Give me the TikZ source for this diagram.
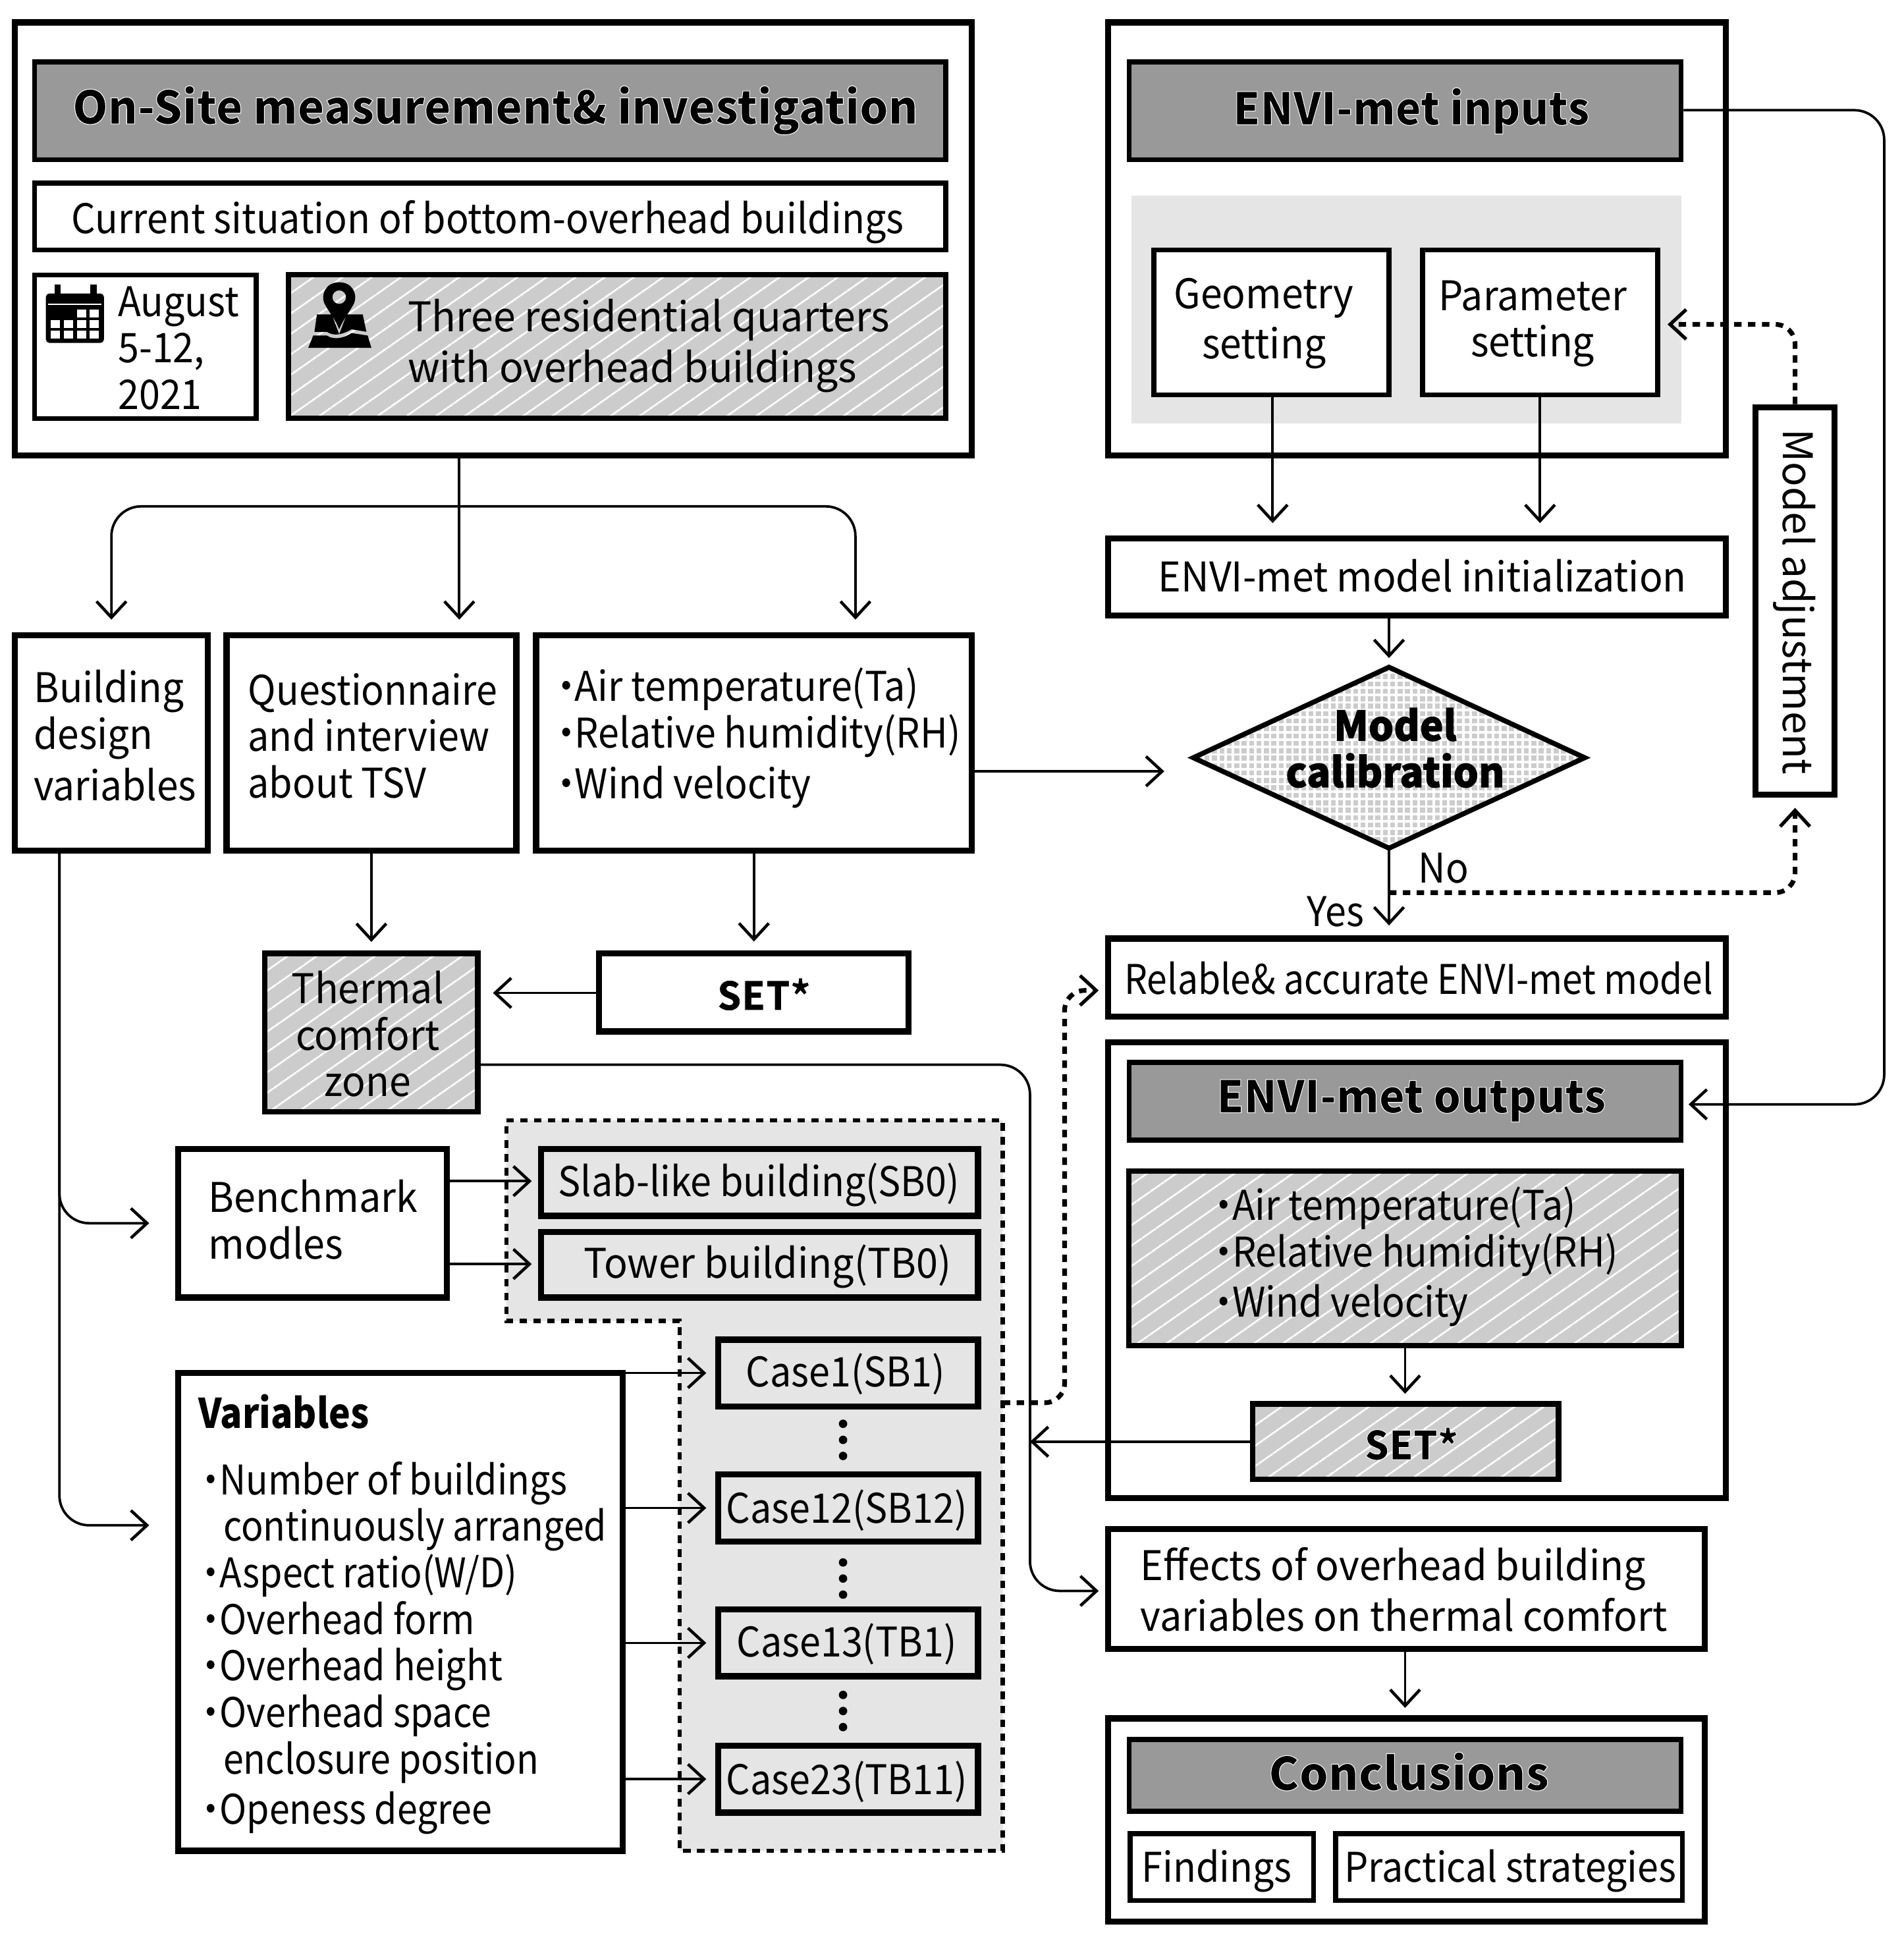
\documentclass[tikz,border=0pt]{standalone}
\usepackage{fontspec}
\setmainfont{Noto Sans CJK SC}[FakeStretch=0.925]
\newfontfamily\ttlfont{Noto Sans CJK SC}[FakeStretch=0.97]
\usetikzlibrary{arrows.meta,patterns.meta,shapes.geometric}
\definecolor{titlegray}{HTML}{999999}
\definecolor{hatchgray}{HTML}{CCCCCC}
\definecolor{panelgray}{HTML}{E5E5E5}
\newcommand\mainsz{\fontsize{16.5pt}{18.8pt}\selectfont}
\newcommand\wh{\special{pdf:code 1 1 1 RG}}
\newcommand\bk{\special{pdf:code 0 0 0 RG}}
\newcommand\st{\rule[-2.5pt]{0pt}{18pt}}
\newcommand\bul{\makebox[7pt][c]{·}}
\tikzset{
  boxbase/.style={rectangle,inner sep=0pt},
  heavy/.style={draw=black,line width=2.5pt,fill=white},
  medium/.style={draw=black,line width=2pt,fill=white},
  titlebox/.style={draw=black,line width=2pt,fill=titlegray},
  hatchbox/.style={draw=black,line width=2.2pt,preaction={fill=hatchgray},pattern={Lines[angle=35,distance=6.9pt,line width=.75pt]},pattern color=white},
  casebox/.style={draw=black,line width=2.5pt,fill=panelgray},
  txt/.style={font=\mainsz,inner sep=0pt,align=center,text=black},
  lefttxt/.style={txt,anchor=west,align=left},
  strk/.style={font=\fontsize{#1}{18.8pt}\selectfont\ttlfont\bfseries\addfontfeature{FakeBold=1.5}},
  strkw/.style 2 args={font=\fontsize{#1}{18.8pt}\selectfont\ttlfont\bfseries\addfontfeature{FakeBold=1.5,FakeStretch=#2}},
  stretched/.style={font=\mainsz\addfontfeature{FakeStretch=#1}},
  conn/.style={draw=black,line width=1pt,-{Straight Barb[length=6.5pt,width=12pt,line width=1.2pt]}},
  dotconn/.style={draw=black,line width=1.9pt,dash pattern=on 3pt off 2.6pt,-{Straight Barb[length=6.5pt,width=12pt,line width=1.4pt]}},
}
\newcommand\bx[6]{\node[boxbase,#2,minimum width={(#5-#3)*0.5pt},minimum height={(#6-#4)*0.5pt}] (#1) at ({(#3+#5)/2},{(#4+#6)/2}) {};}
\newcommand\tx[5][]{\node[txt,#1] (#2) at (#3,#4) {\st#5\st};}
\begin{document}
\begin{tikzpicture}[x=0.5pt,y=-0.5pt]
\useasboundingbox (0,0) rectangle (1538,1569.4);
\fill[white] (0,0) rectangle (1538,1569.4);
% frames
\bx{onsite}{heavy}{12}{18}{785}{368}
\bx{inputs}{heavy}{895}{18}{1394}{368}
\bx{outputs}{heavy}{895}{842}{1394}{1210}
\bx{concl}{heavy}{895}{1388}{1377}{1552}
% On-site
\bx{ost}{titlebox}{28}{50}{764}{129}
\tx[strkw={18.5pt}{0.985}]{ostT}{400}{89}{\wh On-Site measurement\& investigation\bk}
\bx{cur}{medium}{28}{148}{764}{202}
\tx{curT}{394}{177}{Current situation of bottom-overhead buildings}
\bx{aug}{medium}{28}{222}{207}{338}
\tx[lefttxt]{augT}{95}{280}{August\\5-12,\\2021}
\bx{res}{hatchbox}{233}{222}{764}{338}
\tx[lefttxt,stretched=0.98]{resT}{329}{277}{Three residential quarters\\with overhead buildings}
% calendar icon
\fill[black,rounded corners=1.5pt] (37,237) rectangle (84,277);
\foreach \cx in {45,74}{\draw[black,line width=1pt,fill=black] (\cx,231) rectangle (\cx+3,241);}
\fill[white] (39,245) rectangle (82,246.5);
\foreach \row in {0,1,2}\foreach \col in {0,1,2,3}{\ifnum\row\col=0 \else\ifnum\row\col=1 \else\fill[white] ({41+\col*10.5},{250+\row*8.6}) rectangle ({48.5+\col*10.5},{256.5+\row*8.6});\fi\fi}
% map icon
\fill[black,even odd rule] (274,228) .. controls (263,228) and (259,238) .. (262,245) .. controls (265,251) and (271,258) .. (274,266) .. controls (277,258) and (283,251) .. (286,245) .. controls (289,238) and (285,228) .. (274,228) -- cycle (274,240) circle[radius=5.5] ;
\fill[black] (256,254) -- (268,254) -- (274,270) -- (280,254) -- (293,254) -- (296,268) -- (284,266) .. controls (277,270) and (270,272) .. (264,268) -- (254,268) -- cycle;
\fill[black] (253,271) -- (264,271) .. controls (270,275) and (278,273) .. (284,269) -- (297,271) -- (300,281) -- (249,281) -- cycle;
% ENVI inputs
\bx{eit}{titlebox}{912}{50}{1358}{129}
\tx[strk=18pt]{eitT}{1140}{89}{\wh ENVI-met inputs\bk}
\fill[panelgray] (914,158) rectangle (1358,342);
\bx{geo}{medium}{932}{202}{1122}{319}
\tx[stretched=0.95]{geoT}{1021}{258}{Geometry\\setting}
\bx{par}{medium}{1149}{202}{1339}{319}
\tx[stretched=0.95]{parT}{1238}{258}{Parameter\\setting}
\bx{init}{heavy}{895}{435}{1394}{497}
\tx[stretched=0.95]{initT}{1149}{465}{ENVI-met model initialization}
\node[diamond,draw=black,line width=2pt,preaction={fill=hatchgray},preaction={pattern={Lines[angle=0,distance=3pt,line width=1pt]},pattern color=white},pattern={Lines[angle=90,distance=3pt,line width=1pt]},pattern color=white,minimum width=158.5pt,minimum height=73.5pt,aspect=2.16,inner sep=0pt] (cal) at (1122,612) {};
\tx[font=\fontsize{16.5pt}{18.8pt}\selectfont\ttlfont\bfseries\addfontfeature{FakeBold=1.5}]{calT}{1127}{604}{Model\\calibration}
\bx{adj}{heavy}{1418}{329}{1482}{642}
\tx[rotate=-90,stretched=1.0]{adjT}{1452}{486}{Model adjustment}
% row of three
\bx{bld}{heavy}{12}{513}{168}{687}
\tx[lefttxt,stretched=0.945]{bldT}{27}{594}{Building\\design\\variables}
\bx{que}{heavy}{183}{513}{417}{687}
\tx[lefttxt]{queT}{200}{594}{Questionnaire\\and interview\\about TSV}
\bx{air}{heavy}{433}{513}{785}{687}
\tx[lefttxt]{airT}{450}{594}{\bul Air temperature(Ta)\\\bul Relative humidity(RH)\\\bul Wind velocity}
\bx{thz}{hatchbox}{214}{770}{386}{898}
\tx[stretched=0.95]{thzT}{297}{835}{Thermal\\comfort\\zone}
\bx{seta}{heavy}{484}{770}{734}{833}
\tx[strk=16pt]{setaT}{617}{803}{\wh SET*\bk}
\bx{rel}{heavy}{895}{758}{1394}{821}
\tx[stretched=0.89]{relT}{1146}{790}{Relable\& accurate ENVI-met model}
% outputs
\bx{eot}{titlebox}{912}{858}{1358}{921}
\tx[strk=18pt]{eotT}{1140}{887}{\wh ENVI-met outputs\bk}
\bx{ovr}{hatchbox}{912}{946}{1358}{1087}
\tx[lefttxt]{ovrT}{981}{1013}{\bul Air temperature(Ta)\\\bul Relative humidity(RH)\\\bul Wind velocity}
\bx{setb}{hatchbox}{1012}{1134}{1259}{1195}
\tx[strk=16pt]{setbT}{1140}{1166}{\wh SET*\bk}
\bx{eff}{heavy}{895}{1235}{1377}{1332}
\tx[lefttxt,stretched=0.955]{effT}{921}{1284}{Effects of overhead building\\variables on thermal comfort}
\bx{cot}{titlebox}{912}{1405}{1358}{1463}
\tx[strkw={18.5pt}{1.0}]{cotT}{1138}{1433}{\wh Conclusions\bk}
\bx{fin}{medium}{913}{1481}{1061}{1535}
\tx{finT}{983}{1509}{Findings}
\bx{pra}{medium}{1079}{1481}{1359}{1535}
\tx{praT}{1220}{1509}{Practical strategies}
% scenario region
\path[fill=panelgray,draw=black,line width=1.7pt,dash pattern=on 3pt off 2.6pt] (409,905) -- (810,905) -- (810,1495) -- (549,1495) -- (549,1067) -- (409,1067) -- cycle;
\coordinate (regE) at (810,1133);
\bx{ben}{heavy}{144}{928}{361}{1048}
\tx[lefttxt,stretched=0.955]{benT}{168}{985}{Benchmark\\modles}
\bx{sb}{casebox}{437}{928}{790}{982}
\tx{sbT}{613}{955}{Slab-like building(SB0)}
\bx{tb}{casebox}{437}{995}{790}{1048}
\tx[stretched=0.955]{tbT}{620}{1021}{Tower building(TB0)}
\bx{c1}{casebox}{580}{1082}{790}{1136}
\tx{c1T}{683}{1108}{Case1(SB1)}
\bx{c12}{casebox}{580}{1191}{790}{1245}
\tx{c12T}{684}{1218}{Case12(SB12)}
\bx{c13}{casebox}{580}{1300}{790}{1354}
\tx{c13T}{684}{1326}{Case13(TB1)}
\bx{c23}{casebox}{580}{1410}{790}{1464}
\tx{c23T}{684}{1437}{Case23(TB11)}
\foreach \yy in {1150,1163,1176,1262,1275,1288,1369,1382,1395}{\fill[black] (681,\yy) circle[radius=3.4];}
\bx{var}{heavy}{144}{1109}{503}{1495}
\tx[lefttxt,stretched=0.895]{varT}{160}{1302}{{\bfseries\addfontfeature{FakeStretch=0.89}Variables}\\[8pt]\hspace*{1.5pt}\bul Number of buildings\\\hspace*{10pt}continuously arranged\\\hspace*{1.5pt}\bul Aspect ratio(W/D)\\\hspace*{1.5pt}\bul Overhead form\\\hspace*{1.5pt}\bul Overhead height\\\hspace*{1.5pt}\bul Overhead space\\\hspace*{10pt}enclosure position\\\hspace*{1.5pt}\bul Openess degree}
\tx{yes}{1079}{735}{Yes}
\tx{no}{1166}{700}{No}
% connectors
\coordinate (fork) at (371,409);
\draw[conn,rounded corners=12pt,shorten >=5pt] (fork) -- (90,409) -- (90,0 |- bld.north);
\draw[conn,shorten >=5pt] (371,0 |- onsite.south) -- (371,0 |- que.north);
\draw[conn,rounded corners=12pt,shorten >=5pt] (fork) -- (691,409) -- (691,0 |- air.north);
\draw[conn,shorten >=5pt] (1028,0 |- geo.south) -- (1028,0 |- init.north);
\draw[conn,shorten >=5pt] (1244,0 |- par.south) -- (1244,0 |- init.north);
\draw[conn,shorten >=3pt] (1122,0 |- init.south) -- (cal.north);
\draw[conn,shorten >=11pt] (air.east |- 0,623) -- (cal.west |- 0,623);
\draw[conn,shorten >=4pt] (cal.south) -- (1122,0 |- rel.north);
\coordinate (nofork) at (1122,721);
\draw[dotconn,rounded corners=8pt,shorten >=4pt] (nofork) -- (1450,721) -- (adj.south);
\draw[dotconn,rounded corners=8pt,shorten >=3pt] (adj.north) -- (1450,262) -- (par.east |- 0,262);
\draw[conn,rounded corners=12pt,shorten >=2pt] (eit.east |- 0,89) -- (1522,89) -- (1522,892) -- (eot.east |- 0,892);
\draw[conn,rounded corners=12pt,shorten >=10.5pt] (48,0 |- bld.south) -- (48,988) -- (ben.west |- 0,988);
\draw[conn,rounded corners=12pt,shorten >=10.5pt] (48,0 |- bld.south) -- (48,1232) -- (var.west |- 0,1232);
\draw[conn,shorten >=3.5pt] (300,0 |- que.south) -- (300,0 |- thz.north);
\draw[conn,shorten >=3.5pt] (609,0 |- air.south) -- (609,0 |- seta.north);
\draw[conn,shorten >=5pt] (seta.west |- 0,802) -- (thz.east |- 0,802);
\draw[conn,rounded corners=12pt,shorten >=2.5pt] (thz.east |- 0,860) -- (832,860) -- (832,1285) -- (eff.west |- 0,1285);
\draw[conn] (setb.west) -- (832,0 |- setb.west);
\draw[dotconn,rounded corners=8pt,shorten >=2.5pt] (regE) -- (860,1133) -- (860,800) -- (rel.west |- 0,800);
\draw[conn,shorten >=2.5pt] (ben.east |- 0,954) -- (sb.west |- 0,954);
\draw[conn,shorten >=2.5pt] (ben.east |- 0,1021) -- (tb.west |- 0,1021);
\draw[conn,shorten >=3.5pt] (var.east |- c1.west) -- (c1.west);
\draw[conn,shorten >=3.5pt] (var.east |- c12.west) -- (c12.west);
\draw[conn,shorten >=3.5pt] (var.east |- c13.west) -- (c13.west);
\draw[conn,shorten >=3.5pt] (var.east |- c23.west) -- (c23.west);
\draw[conn,shorten >=3pt] (1135,0 |- ovr.south) -- (1135,0 |- setb.north);
\draw[conn,shorten >=3pt] (1135,0 |- eff.south) -- (1135,0 |- concl.north);
\end{tikzpicture}
\end{document}
